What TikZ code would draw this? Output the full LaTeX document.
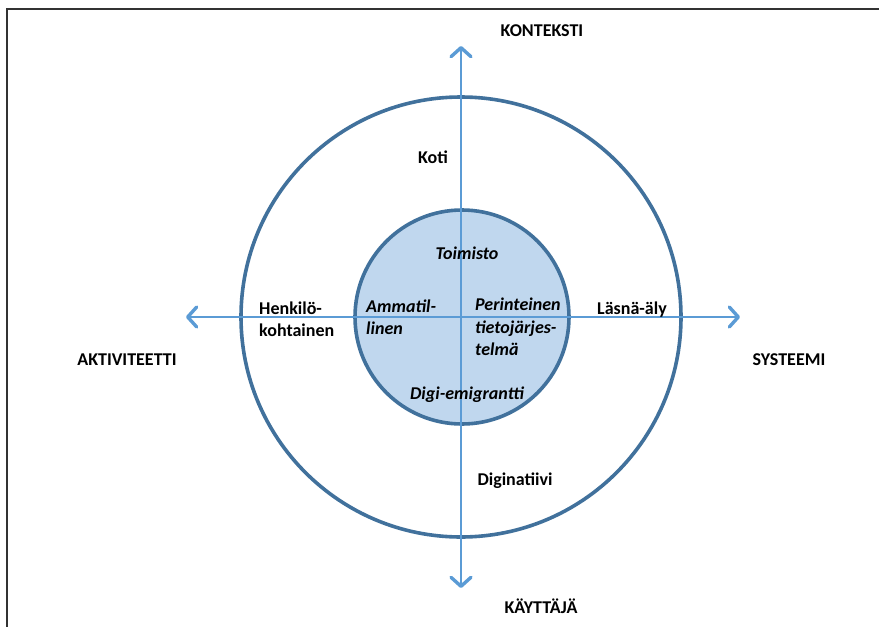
\documentclass[tikz,border=0pt]{standalone}
\usepackage{fontspec}
\setmainfont{Carlito}
\usetikzlibrary{arrows.meta}
\definecolor{ringblue}{RGB}{65,113,156}
\definecolor{axisblue}{RGB}{91,155,213}
\definecolor{corefill}{RGB}{192,215,238}
\definecolor{framegray}{RGB}{50,50,50}
\tikzset{
  ring/.style={circle, draw=ringblue, line width=3.6pt, inner sep=0pt},
  barb/.tip={Straight Barb[length=9pt,width=20pt,line width=3.4pt,round]},
  axis/.style={draw=axisblue, line width=1.8pt, barb-barb},
  lbl/.style={font=\fontsize{18}{22.5}\selectfont\bfseries, inner sep=0pt},
  ilbl/.style={lbl, font=\fontsize{18}{22.5}\selectfont\bfseries\itshape},
}
\begin{document}
\begin{tikzpicture}[x=1pt,y=-1pt]
  \useasboundingbox (0,0) rectangle (879,627);
  % page frame
  \draw[framegray, line width=2.6pt] (7,640) -- (7,9) -- (890,9);

  % rings
  \node[ring, minimum size=440pt] (outer) at (461,317) {};
  \node[ring, fill=corefill, minimum size=214pt] (inner) at (462,317) {};

  % axes
  \coordinate (top) at (461,46);
  \coordinate (bottom) at (461,588);
  \coordinate (left) at (186,317);
  \coordinate (right) at (740,317);
  \draw[axis] (bottom) -- (top);
  \draw[axis] (left) -- (right);

  % axis titles
  \node[lbl] (kont) at (542,31) {KONTEKSTI};
  \node[lbl] (akt) at (127,360) {AKTIVITEETTI};
  \node[lbl] (sys) at (789,360) {SYSTEEMI};
  \node[lbl] (kay) at (541,606) {KÄYTTÄJÄ};

  % outer ring labels
  \node[lbl] (koti) at (433,157) {Koti};
  \node[lbl, align=left, anchor=west] (henk) at (259,319) {Henkilö-\\kohtainen};
  \node[lbl] (lasna) at (632,310) {Läsnä-äly};
  \node[lbl] (dnat) at (515,481) {Diginatiivi};

  % core labels
  \node[ilbl] (toim) at (467,253) {Toimisto};
  \node[ilbl, align=left, anchor=west] (amm) at (366,317) {Ammatil-\\linen};
  \node[ilbl, align=left, anchor=west] (per) at (475,327) {Perinteinen\\tietojärjes-\\telmä};
  \node[ilbl] (demi) at (467,395) {Digi-emigrantti};
\end{tikzpicture}
\end{document}
